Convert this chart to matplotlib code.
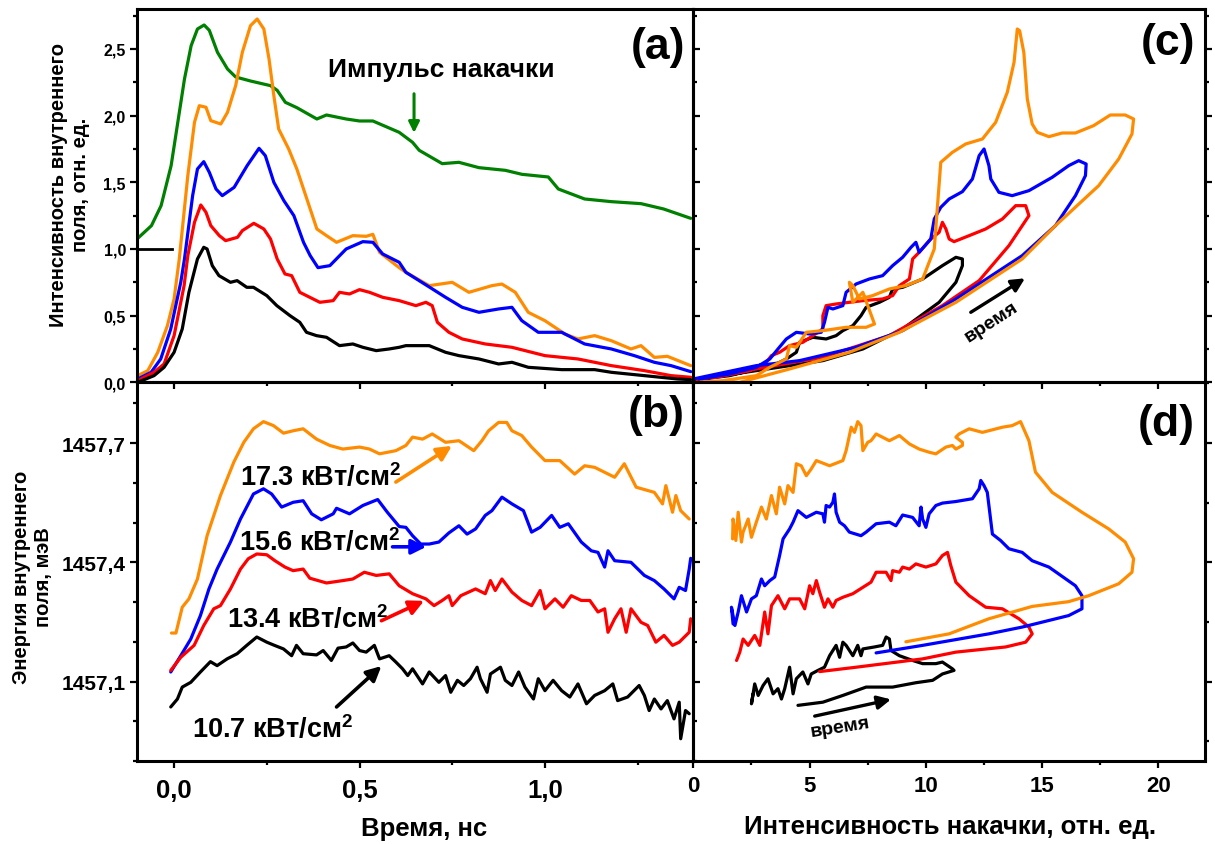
import matplotlib.pyplot as plt
from matplotlib.ticker import MultipleLocator, FuncFormatter

plt.rcParams['font.family'] = ['Liberation Sans', 'DejaVu Sans']
plt.rcParams['font.weight'] = 'bold'
plt.rcParams['mathtext.fontset'] = 'custom'
plt.rcParams['mathtext.rm'] = 'Liberation Sans'
plt.rcParams['mathtext.it'] = 'Liberation Sans:italic'
plt.rcParams['mathtext.bf'] = 'Liberation Sans:bold'

# ---- panel (a): internal field intensity vs time ----
a_green_t = [-0.098, -0.061, -0.035, -0.008, 0.01, 0.028, 0.046, 0.063, 0.081, 0.095, 0.117, 0.144, 0.166, 0.206,
             0.26, 0.278, 0.3, 0.331, 0.385, 0.411, 0.464, 0.5, 0.536, 0.607, 0.643, 0.661, 0.723, 0.768, 0.822,
             0.893, 0.938, 1.009, 1.036, 1.107, 1.179, 1.259, 1.32, 1.393]
a_green_v = [1.08, 1.175, 1.325, 1.625, 1.95, 2.275, 2.525, 2.65, 2.68, 2.64, 2.475, 2.35, 2.29, 2.26,
             2.225, 2.19, 2.10, 2.06, 1.975, 2.005, 1.975, 1.96, 1.96, 1.875, 1.80, 1.74, 1.64, 1.65, 1.61,
             1.59, 1.56, 1.54, 1.45, 1.375, 1.355, 1.34, 1.30, 1.23]

a_orange_t = [-0.098, -0.071, -0.044, -0.018, 0.0, 0.014, 0.037, 0.055, 0.068, 0.086, 0.099, 0.126, 0.144, 0.166,
              0.184, 0.206, 0.224, 0.242, 0.256, 0.269, 0.282, 0.309, 0.331, 0.358, 0.385, 0.411, 0.438, 0.482,
              0.518, 0.536, 0.554, 0.607, 0.625, 0.688, 0.75, 0.795, 0.857, 0.884, 0.92, 0.955, 1.0, 1.054, 1.089,
              1.134, 1.179, 1.232, 1.259, 1.295, 1.33, 1.393]
a_orange_v = [0.05, 0.087, 0.225, 0.425, 0.625, 0.925, 1.55, 1.95, 2.075, 2.063, 1.9625, 1.9375, 2.025, 2.225,
              2.475, 2.675, 2.725, 2.65, 2.425, 2.15, 1.90, 1.75, 1.60, 1.375, 1.15, 1.10, 1.05, 1.10,
              1.095, 1.11, 0.975, 0.86, 0.825, 0.725, 0.75, 0.675, 0.725, 0.737, 0.675, 0.525, 0.462, 0.362, 0.325,
              0.35, 0.312, 0.25, 0.275, 0.187, 0.195, 0.125]

a_blue_t = [-0.098, -0.062, -0.036, -0.009, 0.018, 0.028, 0.05, 0.063, 0.08, 0.095, 0.113, 0.13, 0.162, 0.197, 0.229,
            0.246, 0.269, 0.296, 0.323, 0.349, 0.367, 0.388, 0.42, 0.464, 0.509, 0.536, 0.5625, 0.607, 0.625, 0.688,
            0.732, 0.777, 0.822, 0.875, 0.911, 0.9375, 0.982, 1.045, 1.107, 1.179, 1.241, 1.295, 1.34, 1.393]
a_blue_v = [0.025, 0.075, 0.175, 0.40, 0.75, 0.925, 1.40, 1.60, 1.655, 1.575, 1.45, 1.40, 1.4625, 1.625, 1.755,
            1.70, 1.50, 1.3625, 1.25, 1.05, 0.95, 0.86, 0.875, 1.0, 1.055, 1.05, 0.9625, 0.90, 0.825, 0.715,
            0.6375, 0.5625, 0.525, 0.55, 0.5625, 0.4625, 0.375, 0.375, 0.2875, 0.25, 0.20, 0.15, 0.125, 0.08]

a_red_t = [-0.098, -0.054, -0.027, 0.0, 0.027, 0.037, 0.055, 0.072, 0.086, 0.099, 0.122, 0.139, 0.171, 0.184, 0.215,
           0.242, 0.26, 0.278, 0.299, 0.317, 0.339, 0.366, 0.393, 0.429, 0.446, 0.473, 0.5, 0.527, 0.5625, 0.607,
           0.652, 0.679, 0.696, 0.71, 0.741, 0.777, 0.839, 0.911, 1.0, 1.089, 1.179, 1.268, 1.34, 1.393]
a_red_v = [0.012, 0.075, 0.1375, 0.35, 0.725, 0.95, 1.20, 1.33, 1.275, 1.175, 1.10, 1.0625, 1.0875, 1.1375, 1.1925,
           1.15, 1.075, 0.925, 0.8125, 0.80, 0.675, 0.6375, 0.60, 0.6125, 0.675, 0.6625, 0.695, 0.675, 0.6375, 0.6125,
           0.575, 0.60, 0.575, 0.45, 0.375, 0.325, 0.2875, 0.2625, 0.20, 0.175, 0.125, 0.0875, 0.05, 0.0375]

a_black_t = [-0.098, -0.054, -0.027, 0.0, 0.022, 0.04, 0.063, 0.08, 0.089, 0.103, 0.121, 0.152, 0.17, 0.196, 0.214,
             0.25, 0.277, 0.3125, 0.339, 0.357, 0.384, 0.411, 0.446, 0.482, 0.509, 0.545, 0.58, 0.607, 0.625, 0.688,
             0.732, 0.768, 0.822, 0.875, 0.911, 0.955, 1.045, 1.134, 1.179, 1.268, 1.357, 1.393]
a_black_v = [0.0, 0.05, 0.1125, 0.225, 0.40, 0.675, 0.925, 1.0125, 1.0, 0.875, 0.80, 0.75, 0.7625, 0.7125, 0.7125,
             0.65, 0.575, 0.50, 0.45, 0.375, 0.35, 0.3375, 0.275, 0.2875, 0.2625, 0.2375, 0.25, 0.2625, 0.275, 0.275,
             0.225, 0.20, 0.175, 0.1375, 0.15, 0.1125, 0.095, 0.095, 0.075, 0.05, 0.025, 0.02]

ref_t = [-0.1, -0.005]
ref_v = [1.0, 1.0]

# ---- panel (b): internal field energy vs time ----
b_orange_t = [-0.007, 0.005, 0.022, 0.04, 0.063, 0.089, 0.125, 0.161, 0.188, 0.214, 0.241, 0.268, 0.295, 0.321, 0.348,
              0.384, 0.42, 0.455, 0.5, 0.527, 0.554, 0.598, 0.625, 0.643, 0.67, 0.696, 0.732, 0.768, 0.808, 0.83,
              0.848, 0.875, 0.897, 0.911, 0.9375, 0.964, 1.0, 1.04, 1.08, 1.107, 1.134, 1.188, 1.214, 1.246, 1.295,
              1.317, 1.326, 1.344, 1.353, 1.366, 1.389]
b_orange_e = [1457.222, 1457.222, 1457.287, 1457.308, 1457.358, 1457.467, 1457.568, 1457.652, 1457.702, 1457.736,
              1457.754, 1457.744, 1457.725, 1457.731, 1457.736, 1457.71, 1457.694, 1457.685, 1457.69, 1457.685,
              1457.673, 1457.681, 1457.694, 1457.715, 1457.71, 1457.723, 1457.702, 1457.706, 1457.681, 1457.706,
              1457.731, 1457.752, 1457.752, 1457.731, 1457.719, 1457.69, 1457.656, 1457.656, 1457.622, 1457.643,
              1457.639, 1457.614, 1457.648, 1457.589, 1457.576, 1457.547, 1457.593, 1457.526, 1457.568, 1457.53,
              1457.509]

b_blue_t = [-0.009, 0.018, 0.045, 0.071, 0.094, 0.116, 0.152, 0.179, 0.214, 0.241, 0.263, 0.29, 0.321, 0.348, 0.371,
            0.397, 0.429, 0.438, 0.473, 0.509, 0.549, 0.575, 0.607, 0.625, 0.643, 0.665, 0.688, 0.714, 0.741, 0.768,
            0.79, 0.813, 0.839, 0.857, 0.884, 0.911, 0.942, 0.964, 0.987, 1.018, 1.04, 1.063, 1.098, 1.125, 1.143,
            1.161, 1.17, 1.188, 1.232, 1.268, 1.295, 1.321, 1.348, 1.362, 1.379, 1.389, 1.393]
b_blue_e = [1457.124, 1457.165, 1457.207, 1457.266, 1457.333, 1457.383, 1457.451, 1457.509, 1457.572, 1457.585,
            1457.572, 1457.539, 1457.551, 1457.555, 1457.522, 1457.507, 1457.522, 1457.536, 1457.522, 1457.543,
            1457.558, 1457.526, 1457.49, 1457.488, 1457.467, 1457.446, 1457.446, 1457.451, 1457.474, 1457.492,
            1457.471, 1457.484, 1457.518, 1457.53, 1457.564, 1457.547, 1457.53, 1457.476, 1457.488, 1457.518,
            1457.488, 1457.497, 1457.451, 1457.429, 1457.425, 1457.388, 1457.429, 1457.404, 1457.4, 1457.367,
            1457.354, 1457.333, 1457.308, 1457.337, 1457.329, 1457.383, 1457.41]

b_red_t = [-0.009, 0.018, 0.054, 0.08, 0.107, 0.125, 0.152, 0.179, 0.2, 0.223, 0.25, 0.272, 0.299, 0.321, 0.348,
           0.366, 0.411, 0.455, 0.482, 0.513, 0.545, 0.58, 0.607, 0.643, 0.679, 0.701, 0.723, 0.741, 0.75, 0.773,
           0.813, 0.839, 0.853, 0.866, 0.884, 0.911, 0.9375, 0.964, 0.987, 1.0, 1.027, 1.049, 1.071, 1.098, 1.121,
           1.143, 1.161, 1.17, 1.188, 1.205, 1.219, 1.232, 1.259, 1.277, 1.299, 1.321, 1.344, 1.362, 1.389, 1.393]
b_red_e = [1457.128, 1457.161, 1457.191, 1457.241, 1457.283, 1457.291, 1457.333, 1457.383, 1457.409, 1457.421,
           1457.419, 1457.404, 1457.388, 1457.379, 1457.383, 1457.36, 1457.348, 1457.354, 1457.358, 1457.375,
           1457.367, 1457.371, 1457.341, 1457.321, 1457.308, 1457.291, 1457.304, 1457.316, 1457.291, 1457.316,
           1457.333, 1457.321, 1457.354, 1457.329, 1457.358, 1457.325, 1457.304, 1457.291, 1457.329, 1457.283,
           1457.308, 1457.287, 1457.316, 1457.304, 1457.304, 1457.275, 1457.283, 1457.224, 1457.258, 1457.283,
           1457.224, 1457.283, 1457.249, 1457.241, 1457.199, 1457.216, 1457.191, 1457.199, 1457.224, 1457.258]

b_black_t = [-0.009, 0.009, 0.022, 0.045, 0.071, 0.098, 0.116, 0.143, 0.17, 0.196, 0.223, 0.25, 0.268, 0.295, 0.317,
             0.33, 0.348, 0.384, 0.402, 0.424, 0.442, 0.464, 0.482, 0.5, 0.518, 0.54, 0.554, 0.58, 0.598, 0.616,
             0.63, 0.643, 0.67, 0.688, 0.714, 0.732, 0.746, 0.764, 0.781, 0.799, 0.817, 0.826, 0.844, 0.853, 0.88,
             0.893, 0.911, 0.929, 0.946, 0.969, 0.982, 1.0, 1.022, 1.045, 1.067, 1.089, 1.112, 1.134, 1.161, 1.183,
             1.196, 1.223, 1.254, 1.268, 1.281, 1.295, 1.313, 1.33, 1.348, 1.362, 1.366, 1.379, 1.389]
b_black_e = [1457.036, 1457.056, 1457.086, 1457.098, 1457.124, 1457.15, 1457.14, 1457.157, 1457.17, 1457.191,
             1457.212, 1457.199, 1457.192, 1457.182, 1457.165, 1457.191, 1457.17, 1457.167, 1457.178, 1457.153,
             1457.184, 1457.187, 1457.197, 1457.178, 1457.174, 1457.191, 1457.157, 1457.165, 1457.149, 1457.132,
             1457.115, 1457.132, 1457.094, 1457.124, 1457.098, 1457.115, 1457.073, 1457.103, 1457.09, 1457.107,
             1457.136, 1457.107, 1457.073, 1457.119, 1457.136, 1457.103, 1457.09, 1457.124, 1457.086, 1457.056,
             1457.107, 1457.077, 1457.103, 1457.077, 1457.061, 1457.094, 1457.044, 1457.065, 1457.077, 1457.094,
             1457.052, 1457.061, 1457.09, 1457.065, 1457.027, 1457.056, 1457.031, 1457.052, 1457.006, 1457.048,
             1456.956, 1457.027, 1457.019]

# ---- panel (c): field intensity vs pump intensity ----
c_orange_i = [0.29, 2.0, 4.14, 6.71, 8.86, 11.29, 14.14, 15.57, 17.43, 18.29, 18.86, 18.93, 18.57, 17.93, 17.21,
              16.43, 15.86, 15.29, 14.79, 14.57, 14.36, 14.21, 14.03, 13.93, 13.79, 13.5, 13.0, 12.43, 11.71, 11.14,
              10.64, 10.5, 10.36, 9.86, 9.14, 8.43, 7.71, 7.14, 6.86, 6.71, 6.86, 7.29, 7.79, 7.43, 6.57,
              5.57, 4.86, 4.43, 4.14, 4.0, 3.29, 2.71, 1.29, 0.29]
c_orange_v = [0.0, 0.0, 0.1, 0.225, 0.375, 0.60, 0.925, 1.175, 1.475, 1.675, 1.8625, 1.975, 2.005, 2.005, 1.925,
              1.87, 1.87, 1.8425, 1.875, 1.9375, 2.125, 2.475, 2.6375, 2.65, 2.40, 2.175, 1.95, 1.825, 1.7875, 1.725,
              1.65, 1.325, 1.0, 0.775, 0.725, 0.70, 0.65, 0.625, 0.725, 0.75, 0.6, 0.675, 0.4375, 0.4125, 0.4125,
              0.3875, 0.375, 0.2625, 0.275, 0.175, 0.1125, 0.05, 0.0125, 0.0]

c_blue_i = [0.0, 2.71, 4.57, 7.0, 9.0, 11.29, 14.14, 15.57, 16.43, 16.86, 16.89, 16.57, 16.14, 15.43, 14.43,
            13.71, 13.14, 12.79, 12.71, 12.5, 12.29, 12.0, 11.57, 11.0, 10.64, 10.36, 10.21, 9.71, 9.57, 9.36,
            9.0, 8.57, 8.14, 7.57, 7.0, 6.57, 6.43, 6.0, 5.79, 5.64, 5.5, 5.0, 4.43, 4.0, 3.64,
            3.29, 2.71, 1.57, 0.29]
c_blue_v = [0.025, 0.125, 0.1625, 0.2625, 0.3875, 0.625, 0.95, 1.175, 1.40, 1.55, 1.6375, 1.6625, 1.625, 1.5375, 1.4375,
            1.40, 1.425, 1.525, 1.625, 1.75, 1.70, 1.525, 1.43, 1.375, 1.3125, 1.225, 1.075, 0.975, 1.05, 1.0125,
            0.9375, 0.875, 0.80, 0.775, 0.7375, 0.675, 0.575, 0.55, 0.5625, 0.45, 0.375, 0.3625, 0.375, 0.325, 0.25,
            0.175, 0.1125, 0.0625, 0.025]

c_red_i = [0.14, 2.71, 5.57, 8.43, 10.71, 12.29, 13.57, 14.43, 14.29, 13.86, 13.29, 12.57, 11.86, 11.21, 11.0,
           10.86, 10.71, 10.57, 10.21, 9.71, 9.43, 9.29, 8.86, 8.57, 8.14, 7.29, 6.71, 6.14, 5.71, 5.57,
           5.57, 5.14, 4.71, 4.14, 3.71, 3.36, 3.14, 2.43, 1.0, 0.14]
c_red_v = [0.025, 0.1, 0.1875, 0.35, 0.575, 0.7625, 1.025, 1.25, 1.325, 1.325, 1.225, 1.15, 1.10, 1.055, 1.075,
           1.15, 1.20, 1.125, 1.075, 0.975, 0.925, 0.775, 0.725, 0.65, 0.625, 0.6125, 0.60, 0.5875, 0.575, 0.50,
           0.40, 0.35, 0.30, 0.275, 0.225, 0.20, 0.15, 0.0875, 0.0375, 0.025]

c_black_i = [0.14, 2.71, 5.57, 7.29, 9.0, 10.57, 11.29, 11.57, 11.57, 11.29, 10.71, 9.86, 9.0, 8.57, 8.43,
             8.0, 7.43, 7.21, 6.86, 6.43, 6.14, 5.71, 5.14, 4.57, 4.43, 4.0, 3.57, 2.71, 1.57, 0.14]
c_black_v = [0.02, 0.0875, 0.1625, 0.25, 0.40, 0.60, 0.75, 0.875, 0.925, 0.9375, 0.875, 0.775, 0.7125, 0.70, 0.6375,
             0.60, 0.5625, 0.50, 0.425, 0.3875, 0.35, 0.325, 0.3375, 0.30, 0.225, 0.175, 0.1375, 0.10, 0.05, 0.02]

# ---- panel (d): field energy vs pump intensity ----
d_black_i = [4.5, 5.57, 6.43, 7.43, 8.57, 9.57, 10.29, 10.71, 11.21, 11.14, 10.71, 10.43, 9.86, 9.43, 8.86,
             8.5, 8.43, 8.29, 8.14, 7.79, 7.29, 7.21, 7.07, 6.86, 6.57, 6.43, 6.29, 6.14, 5.86, 5.64,
             5.36, 5.07, 4.93, 4.71, 4.43, 4.29, 4.14, 3.93, 3.79, 3.64, 3.43, 3.21, 3.0, 2.79, 2.64, 2.5, 2.57]
d_black_e = [1457.04, 1457.048, 1457.065, 1457.086, 1457.086, 1457.097, 1457.103, 1457.119, 1457.128, 1457.132,
             1457.149, 1457.145, 1457.145, 1457.153, 1457.165, 1457.178, 1457.207, 1457.212, 1457.191, 1457.187,
             1457.182, 1457.165, 1457.191, 1457.165, 1457.191, 1457.199, 1457.161, 1457.191, 1457.165, 1457.136,
             1457.128, 1457.119, 1457.094, 1457.124, 1457.107, 1457.069, 1457.136, 1457.082, 1457.056, 1457.082,
             1457.069, 1457.107, 1457.09, 1457.065, 1457.094, 1457.044, 1457.069]

d_red_i = [5.43, 7.0, 9.86, 11.29, 13.43, 14.29, 14.57, 14.43, 14.0, 13.29, 12.57, 11.86, 11.29, 11.07, 10.93,
           10.71, 10.43, 10.0, 9.57, 9.29, 9.0, 8.86, 8.57, 8.5, 8.29, 7.86, 7.64, 7.29, 6.86, 6.43,
           6.14, 6.0, 5.79, 5.64, 5.43, 5.29, 5.14, 5.0, 4.79, 4.57, 4.14, 3.93, 3.64, 3.36, 3.21,
           3.07, 2.86, 2.64, 2.36, 2.14, 2.0, 1.86]
d_red_e = [1457.125, 1457.136, 1457.157, 1457.174, 1457.187, 1457.199, 1457.22, 1457.237, 1457.258, 1457.283,
           1457.287, 1457.316, 1457.35, 1457.392, 1457.425, 1457.417, 1457.396, 1457.388, 1457.396, 1457.383,
           1457.388, 1457.375, 1457.379, 1457.354, 1457.375, 1457.375, 1457.35, 1457.337, 1457.321, 1457.312,
           1457.304, 1457.287, 1457.308, 1457.287, 1457.325, 1457.354, 1457.321, 1457.341, 1457.283, 1457.308,
           1457.308, 1457.283, 1457.316, 1457.291, 1457.22, 1457.275, 1457.191, 1457.216, 1457.191, 1457.207,
           1457.174, 1457.153]

d_blue_i = [7.86, 9.86, 12.71, 14.14, 16.14, 16.71, 16.71, 16.43, 15.29, 14.57, 14.14, 13.57, 13.21, 12.86, 12.64,
            12.5, 12.36, 12.29, 12.0, 11.29, 10.71, 10.43, 10.14, 10.0, 9.86, 9.79, 9.71, 9.43, 9.0, 8.71,
            8.43, 7.86, 7.43, 7.21, 6.71, 6.5, 6.29, 6.14, 6.07, 6.0, 5.86, 5.71, 5.64, 5.57, 5.29,
            4.86, 4.5, 4.29, 4.14, 3.86, 3.71, 3.5, 3.29, 3.07, 2.93, 2.71, 2.5, 2.29, 2.07, 1.93,
            1.79, 1.64, 1.71]
d_blue_e = [1457.172, 1457.191, 1457.22, 1457.237, 1457.266, 1457.283, 1457.316, 1457.341, 1457.388, 1457.404,
            1457.425, 1457.434, 1457.455, 1457.471, 1457.576, 1457.593, 1457.606, 1457.585, 1457.56, 1457.553,
            1457.549, 1457.543, 1457.522, 1457.488, 1457.509, 1457.539, 1457.492, 1457.513, 1457.519, 1457.492,
            1457.501, 1457.497, 1457.476, 1457.467, 1457.476, 1457.492, 1457.501, 1457.526, 1457.572, 1457.551,
            1457.539, 1457.543, 1457.501, 1457.522, 1457.526, 1457.513, 1457.53, 1457.501, 1457.484, 1457.459,
            1457.417, 1457.363, 1457.354, 1457.341, 1457.358, 1457.316, 1457.308, 1457.275, 1457.316, 1457.275,
            1457.241, 1457.287, 1457.245]

d_orange_i = [9.14, 11.0, 12.71, 14.57, 16.14, 17.0, 18.29, 18.86, 18.93, 18.57, 17.86, 16.71, 15.43, 14.71, 14.43,
              14.07, 13.71, 13.29, 12.43, 11.86, 11.43, 11.29, 11.57, 11.57, 11.29, 11.14, 10.86, 10.43, 10.14, 9.71,
              9.29, 8.86, 8.43, 7.86, 7.64, 7.5, 7.29, 7.21, 7.07, 6.93, 6.79, 6.57, 6.43, 5.86, 5.29,
              5.07, 4.86, 4.64, 4.43, 4.29, 4.07, 3.93, 3.71, 3.57, 3.36, 3.14, 2.93, 2.71, 2.5, 2.36,
              2.14, 2.07, 1.93, 1.83, 1.71, 1.69]
d_orange_e = [1457.2, 1457.22, 1457.258, 1457.289, 1457.301, 1457.316, 1457.346, 1457.375, 1457.409, 1457.451,
              1457.484, 1457.526, 1457.576, 1457.627, 1457.706, 1457.754, 1457.744, 1457.74, 1457.727, 1457.736,
              1457.723, 1457.715, 1457.702, 1457.694, 1457.685, 1457.694, 1457.69, 1457.673, 1457.677, 1457.685,
              1457.698, 1457.719, 1457.706, 1457.723, 1457.706, 1457.702, 1457.681, 1457.744, 1457.754, 1457.727,
              1457.74, 1457.681, 1457.656, 1457.643, 1457.656, 1457.635, 1457.618, 1457.643, 1457.648, 1457.576,
              1457.593, 1457.547, 1457.589, 1457.522, 1457.568, 1457.509, 1457.539, 1457.501, 1457.463, 1457.509,
              1457.476, 1457.451, 1457.526, 1457.455, 1457.509, 1457.459]

power_labels = ['17.3 кВт/см$^{2}$', '15.6 кВт/см$^{2}$', '13.4 кВт/см$^{2}$', '10.7 кВт/см$^{2}$']

ORANGE = '#ff8c00'
BLUE = '#0000ff'
RED = '#ff0000'
GREEN = '#008000'
BLACK = '#000000'
LW = 2.3

comma = FuncFormatter(lambda v, p: f'{v:.1f}'.replace('.', ','))

fig = plt.figure(figsize=(12.15, 8.45), dpi=100)
L, M, R = 137 / 1215, 693.3 / 1215, 1205 / 1215
T, H, B = 1 - 10 / 845, 1 - 383.3 / 845, 1 - 762 / 845
ax_a = fig.add_axes([L, H, M - L, T - H])
ax_b = fig.add_axes([L, B, M - L, H - B])
ax_c = fig.add_axes([M, H, R - M, T - H])
ax_d = fig.add_axes([M, B, R - M, H - B])

for ax in (ax_a, ax_b, ax_c, ax_d):
    ax.set_facecolor('none')
    for s in ax.spines.values():
        s.set_linewidth(2.2)
    ax.tick_params(which='both', direction='out', width=1.6, top=False)
    ax.tick_params(which='major', length=5)
    ax.tick_params(which='minor', length=3)

line_kw = dict(lw=LW, solid_joinstyle='round', solid_capstyle='round')

# (a)
ax_a.plot(a_green_t, a_green_v, color=GREEN, **line_kw)
ax_a.plot(a_orange_t, a_orange_v, color=ORANGE, **line_kw)
ax_a.plot(a_blue_t, a_blue_v, color=BLUE, **line_kw)
ax_a.plot(a_red_t, a_red_v, color=RED, **line_kw)
ax_a.plot(a_black_t, a_black_v, color=BLACK, **line_kw)
ax_a.plot(ref_t, ref_v, color=BLACK, lw=2.0)
ax_a.set_xlim(-0.1, 1.4)
ax_a.set_ylim(0, 2.8)
ax_a.yaxis.set_major_locator(MultipleLocator(0.5))
ax_a.yaxis.set_minor_locator(MultipleLocator(0.25))
ax_a.yaxis.set_major_formatter(comma)
ax_a.xaxis.set_major_locator(MultipleLocator(0.5))
ax_a.xaxis.set_minor_locator(MultipleLocator(0.25))
ax_a.tick_params(axis='x', labelbottom=False)
ax_a.tick_params(axis='y', right=True, which='both', labelsize=11.5, pad=3)
ax_a.text(0.72, 2.35, 'Импульс накачки', fontsize=19, ha='center', va='center')
ax_a.annotate('', xy=(0.647, 1.85), xytext=(0.647, 2.185),
              arrowprops=dict(arrowstyle='-|>', color=GREEN, lw=2.2, mutation_scale=16))
ax_a.text(0.985, 0.9, '(a)', transform=ax_a.transAxes, fontsize=32, ha='right', va='center')

# (b)
ax_b.plot(b_orange_t, b_orange_e, color=ORANGE, **line_kw)
ax_b.plot(b_blue_t, b_blue_e, color=BLUE, **line_kw)
ax_b.plot(b_red_t, b_red_e, color=RED, **line_kw)
ax_b.plot(b_black_t, b_black_e, color=BLACK, **line_kw)
ax_b.set_xlim(-0.1, 1.4)
ax_b.set_ylim(1456.9, 1457.853)
ax_b.yaxis.set_major_locator(MultipleLocator(0.3))
ax_b.yaxis.set_minor_locator(MultipleLocator(0.1))
ax_b.yaxis.set_major_formatter(comma)
ax_b.xaxis.set_major_locator(MultipleLocator(0.5))
ax_b.xaxis.set_minor_locator(MultipleLocator(0.25))
ax_b.xaxis.set_major_formatter(comma)
ax_b.tick_params(axis='y', right=True, which='both', labelsize=15, pad=3)
ax_b.tick_params(axis='x', labelsize=18.5, pad=7)
ax_b.text(0.985, 0.914, '(b)', transform=ax_b.transAxes, fontsize=32, ha='right', va='center')

label_pos = [(0.179, 1457.615), (0.174, 1457.451), (0.144, 1457.258), (0.047, 1456.981)]
arrow_tail = [(0.598, 1457.602), (0.589, 1457.439), (0.559, 1457.253), (0.438, 1457.036)]
arrow_head = [(0.749, 1457.693), (0.68, 1457.439), (0.674, 1457.303), (0.559, 1457.139)]
for lab, pos, tail, head, col in zip(power_labels, label_pos, arrow_tail, arrow_head, [ORANGE, BLUE, RED, BLACK]):
    ax_b.text(pos[0], pos[1], lab, fontsize=19.5, ha='left', va='center')
    ax_b.annotate('', xy=head, xytext=tail,
                  arrowprops=dict(arrowstyle='-|>', color=col, lw=2.6, mutation_scale=22, shrinkA=0, shrinkB=0))

# (c)
ax_c.plot(c_black_i, c_black_v, color=BLACK, **line_kw)
ax_c.plot(c_red_i, c_red_v, color=RED, **line_kw)
ax_c.plot(c_blue_i, c_blue_v, color=BLUE, **line_kw)
ax_c.plot(c_orange_i, c_orange_v, color=ORANGE, **line_kw)
ax_c.set_xlim(0, 22)
ax_c.set_ylim(0, 2.8)
ax_c.xaxis.set_major_locator(MultipleLocator(5))
ax_c.xaxis.set_minor_locator(MultipleLocator(2.5))
ax_c.yaxis.set_major_locator(MultipleLocator(0.5))
ax_c.yaxis.set_minor_locator(MultipleLocator(0.25))
ax_c.tick_params(axis='x', labelbottom=False)
ax_c.tick_params(axis='y', which='both', left=False, labelleft=False, right=True)
ax_c.annotate('', xy=(14.26, 0.78), xytext=(11.93, 0.525),
              arrowprops=dict(arrowstyle='-|>', color=BLACK, lw=2.4, mutation_scale=20, shrinkA=0, shrinkB=0))
ax_c.text(12.79, 0.46, 'время', fontsize=14, rotation=33, ha='center', va='center')
ax_c.text(0.98, 0.911, '(c)', transform=ax_c.transAxes, fontsize=32, ha='right', va='center')

# (d)
ax_d.plot(d_black_i, d_black_e, color=BLACK, **line_kw)
ax_d.plot(d_red_i, d_red_e, color=RED, **line_kw)
ax_d.plot(d_blue_i, d_blue_e, color=BLUE, **line_kw)
ax_d.plot(d_orange_i, d_orange_e, color=ORANGE, **line_kw)
ax_d.set_xlim(0, 22)
ax_d.set_ylim(1456.9, 1457.853)
ax_d.xaxis.set_major_locator(MultipleLocator(5))
ax_d.xaxis.set_minor_locator(MultipleLocator(2.5))
ax_d.yaxis.set_major_locator(MultipleLocator(0.3))
ax_d.yaxis.set_minor_locator(MultipleLocator(0.15))
ax_d.tick_params(axis='y', which='both', left=False, labelleft=False, right=True)
ax_d.tick_params(axis='x', labelsize=16, pad=5)
ax_d.annotate('', xy=(8.5, 1457.055), xytext=(5.22, 1457.013),
              arrowprops=dict(arrowstyle='-|>', color=BLACK, lw=2.4, mutation_scale=20, shrinkA=0, shrinkB=0))
ax_d.text(6.29, 1456.985, 'время', fontsize=14, rotation=9, ha='center', va='center')
ax_d.text(0.98, 0.89, '(d)', transform=ax_d.transAxes, fontsize=32, ha='right', va='center')

# axis titles
fig.text(69 / 1215, 1 - 185 / 845, 'Интенсивность внутреннего\nполя, отн. ед.', rotation=90,
         fontsize=14.5, ha='center', va='center', multialignment='center')
fig.text(33 / 1215, 1 - 577 / 845, 'Энергия внутреннего\nполя, мэВ', rotation=90,
         fontsize=14.5, ha='center', va='center', multialignment='center')
fig.text(424 / 1215, 1 - 829 / 845, 'Время, нс', fontsize=18.5, ha='center', va='center')
fig.text(950 / 1215, 1 - 827 / 845, 'Интенсивность накачки, отн. ед.', fontsize=18.5, ha='center', va='center')

fig.savefig('out.png', dpi=100)
